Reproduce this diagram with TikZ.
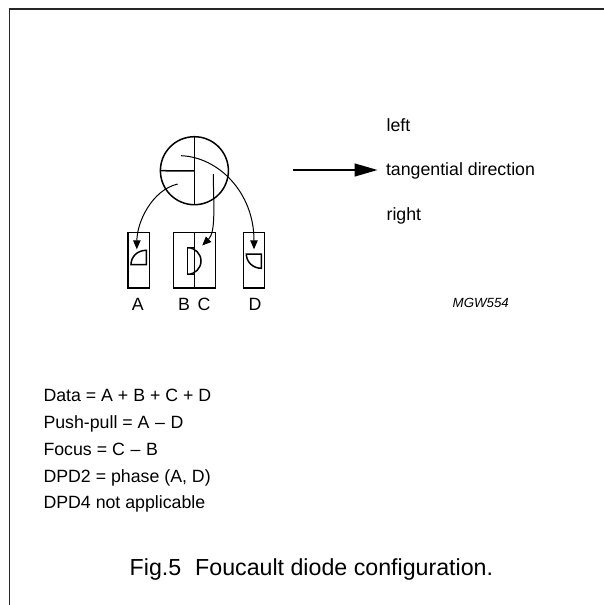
\documentclass[tikz,border=0pt]{standalone}
\usepackage{fontspec}
\setmainfont{Liberation Sans}
\usetikzlibrary{arrows.meta}
\tikzset{
  lbl/.style={inner sep=0pt,outer sep=0pt,anchor=base west,font=\fontsize{17.75}{20}\selectfont},
  lblc/.style={inner sep=0pt,outer sep=0pt,anchor=base,font=\fontsize{17.75}{20}\selectfont},
  part/.style={line width=1.5pt,draw=black},
  ray/.style={line width=1pt,draw=black,-{Triangle[length=9pt,width=7.5pt]}},
  frameline/.style={line width=1.8pt,draw=black!85}
}
\begin{document}
\begin{tikzpicture}[x=1pt,y=-1pt]
\useasboundingbox (0,0) rectangle (604,605);
\fill[white] (0,0) rectangle (604,605);
% frame
\coordinate (fa) at (9.5,605);
\coordinate (fb) at (9.5,9.3);
\coordinate (fc) at (604,9.3);
\draw[frameline] (fa) -- (fb) -- (fc);
% circle
\node[part,circle,minimum size=68pt,inner sep=0pt,outer sep=0pt] (disc) at (194.4,170.7) {};
\draw[part] (disc.north) -- (disc.south);
\coordinate (mid) at (194.4,171);
\draw[part] (disc.west) -- (mid);
% detectors
\node[part,rectangle,inner sep=0pt,outer sep=0pt,minimum width=21.3pt,minimum height=55.4pt] (rA) at (138.7,260.4) {};
\node[part,rectangle,inner sep=0pt,outer sep=0pt,minimum width=42pt,minimum height=55.4pt] (rBC) at (194.3,260.4) {};
\node[part,rectangle,inner sep=0pt,outer sep=0pt,minimum width=21pt,minimum height=55.4pt] (rD) at (253.8,260.4) {};
\draw[part] (rBC.north) -- (rBC.south);
% spots
\draw[part] (146.3,264.7) -- (146.3,250.3) .. controls (137.5,250.3) and (131,256.5) .. (131,264.7) -- cycle;
\draw[part] (261.3,268.3) -- (261.3,254) -- (246.3,254) .. controls (246.3,262) and (253,268.3) .. cycle;
\draw[part] (194.3,247.7) -- (187.7,247.7) -- (187.7,274.3) -- (194.3,274.3);
\draw[part] (187.7,247.7) arc[start angle=90,end angle=-90,radius=13.3pt];
% rays
\coordinate (sA) at (177.7,184);
\coordinate (eA) at (136.8,249.3);
\coordinate (sC) at (213.3,174);
\coordinate (eC) at (202.2,245.5);
\coordinate (sD) at (181,155.7);
\coordinate (eD) at (254,249.3);
\draw[ray] (sA) .. controls (152,190) and (137,222) .. (eA);
\draw[ray] (sC) .. controls (213.5,205) and (216,232) .. (eC);
\draw[ray] (sD) .. controls (218,157) and (254,192) .. (eD);
% direction arrow
\coordinate (dirS) at (292.7,170);
\coordinate (dirE) at (377.5,170);
\draw[line width=1.4pt,-{Triangle[length=23pt,width=13pt]}] (dirS) -- (dirE);
% labels
\node[lbl] (tleft) at (386.6,131) {left};
\node[lbl] (tdir) at (386,175.6) {tangential direction};
\node[lbl] (tright) at (386.6,220) {right};
\node[lblc] (la) at (137.7,310.5) {A};
\node[lblc] (lb) at (184,310.5) {B};
\node[lblc] (lc) at (204,310.5) {C};
\node[lblc] (ld) at (255,310.5) {D};
\node[inner sep=0pt,anchor=base west,font=\fontsize{13.3}{15}\selectfont\itshape] (mgw) at (452.5,307) {MGW554};
\node[lbl] (e1) at (43.5,401.7) {Data = A + B + C + D};
\node[lbl] (e2) at (43.5,428.7) {Push-pull = A\hspace{0.04em} -- \hspace{0.04em}D};
\node[lbl] (e3) at (43.5,455.5) {Focus = C\hspace{0.04em} -- \hspace{0.04em}B};
\node[lbl] (e4) at (43.5,482.3) {DPD2 = phase (A, D)};
\node[lbl] (e5) at (43.5,508.9) {DPD4 not applicable};
\node[inner sep=0pt,anchor=base west,font=\fontsize{23.2}{26}\selectfont] (cap) at (129.5,575) {Fig.5\hspace{0.6em}Foucault diode configuration.};
\end{tikzpicture}
\end{document}
